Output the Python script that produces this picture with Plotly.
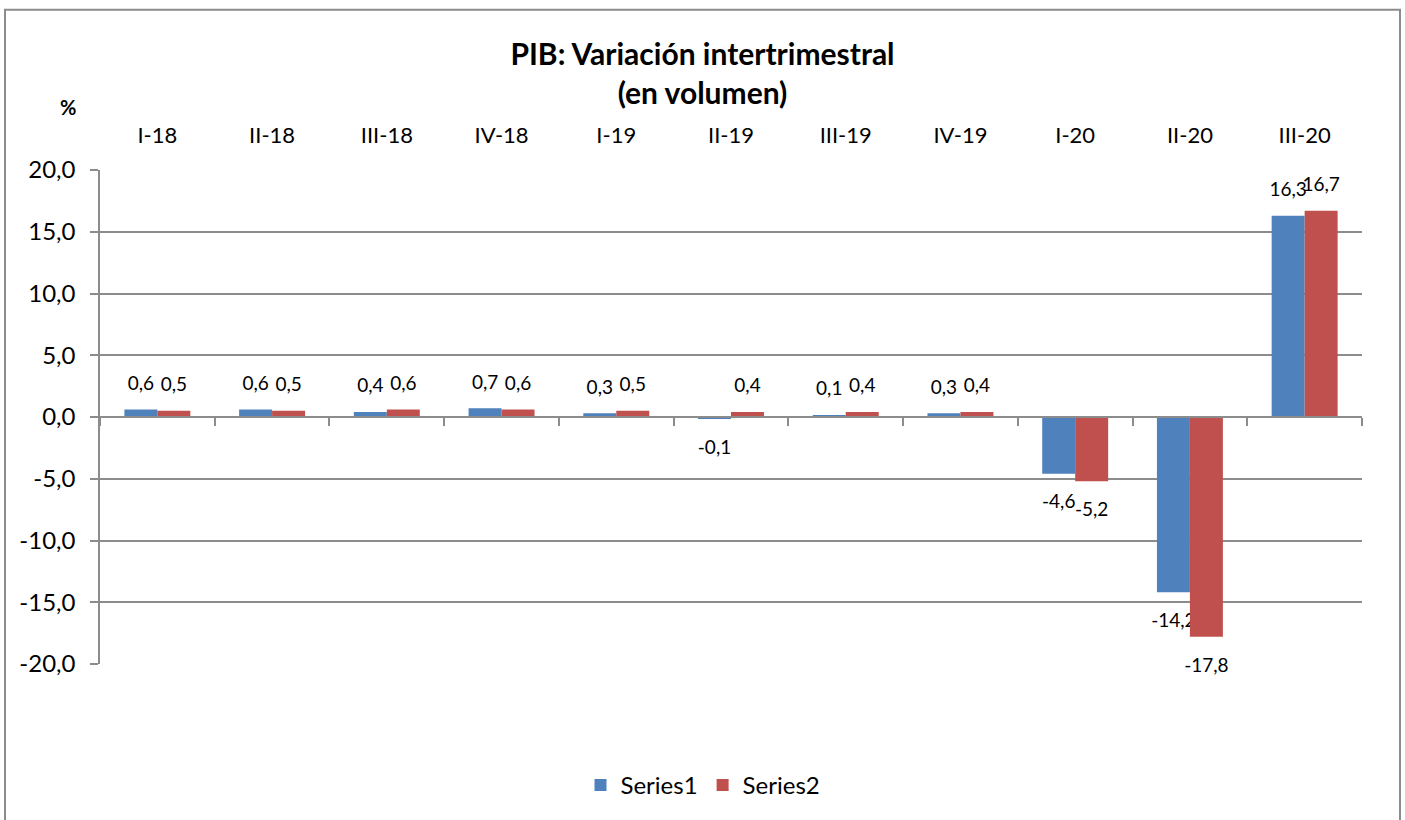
import plotly.graph_objects as go

# ── Data ──────────────────────────────────────────────────────────────────────
QUARTERS = ["I-18", "II-18", "III-18", "IV-18", "I-19", "II-19",
            "III-19", "IV-19", "I-20", "II-20", "III-20"]
SERIES1 = [0.6, 0.6, 0.4, 0.7, 0.3, -0.1, 0.1, 0.3, -4.6, -14.2, 16.3]
SERIES2 = [0.5, 0.5, 0.6, 0.6, 0.5, 0.4, 0.4, 0.4, -5.2, -17.8, 16.7]
Y_TICKS = [-20, -15, -10, -5, 0, 5, 10, 15, 20]
Y_TICK_TEXT = ["-20,0", "-15,0", "-10,0", "-5,0", "0,0", "5,0", "10,0", "15,0", "20,0"]

# ── Theme ─────────────────────────────────────────────────────────────────────
BLUE = "#4F81BD"
RED = "#C0504D"
GRID = "#8C8C8C"
FONT = "Lato, Open Sans, sans-serif"
LABEL_SIZE = 19

W, H = 1405, 820
L, R, T, B = 100, 43, 170, 154
PW, PH = W - L - R, H - T - B


def px_x(p):
    return (p - L) / PW


def px_y(p):
    return (H - B - p) / PH


def label(v):
    # Excel style: decimal comma, plain hyphen; a spacer line lifts the label off the bar
    s = f"<span style='font-size:{LABEL_SIZE}px'>{v:.1f}</span>".replace(".", ",")
    spacer = "<span style='font-size:7px'> </span>"
    return f"{s}<br>{spacer}" if v >= 0 else f"{spacer}<br>{s}"


def label_base(v):
    # base size sets the spacer line height (smaller gap above positive bars)
    return 12 if v >= 0 else LABEL_SIZE


fig = go.Figure()

for name, vals, color in [("Series1", SERIES1, BLUE), ("Series2", SERIES2, RED)]:
    fig.add_trace(go.Bar(
        x=QUARTERS, y=vals, name=name,
        marker=dict(color=color, line=dict(width=0)),
        text=[label(v) for v in vals], texttemplate="%{text}",
        textposition="outside",
        textfont=dict(size=[label_base(v) for v in vals], color="#000000", family=FONT),
        constraintext="none", cliponaxis=False,
        hoverinfo="x+y+name",
    ))

# helper trace that carries the zero-line axis with boundary ticks
fig.add_trace(go.Scatter(
    x=QUARTERS, y=[None] * len(QUARTERS), xaxis="x2",
    mode="markers", showlegend=False, hoverinfo="skip",
))

fig.update_layout(
    width=W, height=H,
    paper_bgcolor="white", plot_bgcolor="white",
    font=dict(family=FONT, color="#000000", size=22),
    separators=",.",
    margin=dict(l=L, r=R, t=T, b=B),
    barmode="group", bargap=0.425, bargroupgap=0,
    title=dict(
        text="<b>PIB: Variación intertrimestral<br>(en volumen)</b>",
        x=0.5, xref="container", xanchor="center",
        y=1 - 65 / H, yref="container", yanchor="middle",
        font=dict(size=30, family=FONT),
    ),
    xaxis=dict(
        type="category", side="top", range=[-0.5, 10.5],
        showline=False, showgrid=False, ticks="", zeroline=False,
        ticklabelstandoff=22, tickfont=dict(size=22),
    ),
    xaxis2=dict(
        type="category", overlaying="x", matches="x",
        anchor="free", position=0.5,
        showline=True, linecolor=GRID, linewidth=1.5,
        ticks="outside", tickson="boundaries", ticklen=8, tickcolor=GRID,
        tickwidth=1.5, showticklabels=False, showgrid=False,
    ),
    yaxis=dict(
        range=[-20, 20], tickvals=Y_TICKS, ticktext=Y_TICK_TEXT,
        showgrid=True, gridcolor=GRID, gridwidth=1.5,
        zeroline=False,
        showline=True, linecolor=GRID, linewidth=1.5,
        ticks="outside", ticklen=8, tickcolor=GRID, tickwidth=1.5,
        ticklabelstandoff=10, tickfont=dict(size=24),
    ),
    legend=dict(
        orientation="h", x=px_x(703), xanchor="center",
        y=px_y(788), yanchor="middle",
        font=dict(size=24), itemwidth=30, tracegroupgap=0,
    ),
    annotations=[dict(
        text="<b>%</b>", xref="paper", yref="paper",
        x=px_x(68), y=px_y(107), showarrow=False,
        xanchor="center", yanchor="middle", font=dict(size=20),
    )],
    shapes=[dict(
        type="rect", xref="paper", yref="paper",
        x0=px_x(5), x1=px_x(1400), y0=px_y(840), y1=px_y(9),
        line=dict(color="#8C8C8C", width=2), fillcolor="rgba(0,0,0,0)",
        layer="below",
    )],
)

fig.write_html("out.html", config={"displayModeBar": False},
               post_script="document.body.style.margin='0';")
